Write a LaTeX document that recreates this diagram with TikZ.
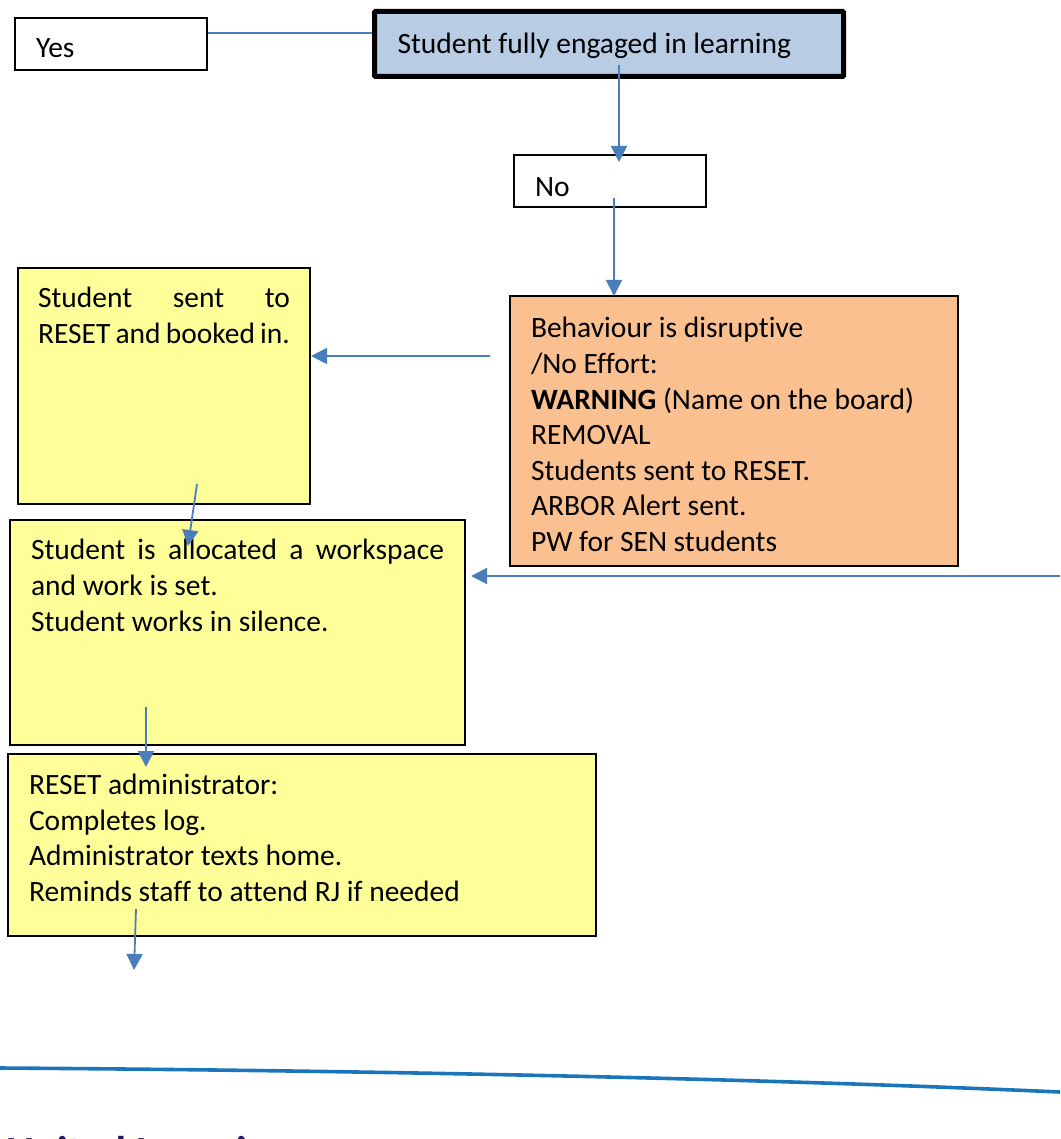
\documentclass[tikz,border=0pt]{standalone}
\usepackage{fontspec}
\setmainfont{Carlito}[Ligatures=NoCommon]
\usetikzlibrary{arrows.meta}
\definecolor{flow}{HTML}{4A7EBB}
\definecolor{paleblue}{HTML}{B8CCE4}
\definecolor{paleyellow}{HTML}{FFFF99}
\definecolor{paleorange}{HTML}{FBC08F}
\definecolor{rule}{HTML}{1B75BB}
\definecolor{navy}{HTML}{1F1A5E}
\newcommand{\boxtext}[4]{\parbox[c][#2pt][t]{#1pt}{\fontsize{29.5}{35.6}\selectfont\vspace*{#3pt}\strut #4}}
\tikzset{
  x=1pt,y=-1pt,
  flowbox/.style={draw=black,line width=2pt,inner sep=0pt,anchor=north west,align=left},
  link/.style={draw=flow,line width=1.8pt},
  arrowlink/.style={link,-{Triangle[length=16pt,width=16pt]}}
}
\begin{document}
\begin{tikzpicture}
\useasboundingbox (0,0) rectangle (1060,1139);
\begin{scope}
\clip (0,0) rectangle (1060,1139);
\node[flowbox] (yes) at (14,17) {\hspace{21pt}\boxtext{171}{52}{15}{\raggedright Yes}};
\node[flowbox,fill=paleblue,line width=5pt,rounded corners=1pt] (main) at (372,9) {\hspace{23pt}\boxtext{446}{65}{17}{\raggedright Student fully engaged in learning}};
\node[flowbox] (no) at (513,154) {\hspace{21pt}\boxtext{171}{52}{17}{\raggedright No}};
\node[flowbox,fill=paleorange] (behaviour) at (509,295) {\hspace{21pt}\boxtext{427}{270}{17}{\raggedright Behaviour is disruptive\\/No Effort:\\\textbf{WARNING} (Name on the board)\\REMOVAL\\Students sent to RESET.\\ARBOR Alert sent.\\PW for SEN students}};
\node[flowbox,fill=paleyellow] (reset) at (17,267) {\hspace{20pt}\boxtext{252}{236}{15}{\makebox[252pt][s]{Student sent to}\\\makebox[252pt][s]{RESET and booked in.}}\hspace{20pt}};
\node[flowbox,fill=paleyellow] (work) at (9,519) {\hspace{21pt}\boxtext{413}{225}{15}{Student is allocated a workspace and work is set.\\Student works in silence.}\hspace{21pt}};
\node[flowbox,fill=paleyellow] (admin) at (7,753) {\hspace{21pt}\boxtext{567}{182}{15.5}{\raggedright RESET administrator:\\Completes log.\\Administrator texts home.\\Reminds staff to attend RJ if needed}};
\coordinate (a1) at (619,65);
\coordinate (a2) at (619,162);
\coordinate (b1) at (614,198);
\coordinate (b2) at (614,296);
\coordinate (c1) at (490,356);
\coordinate (c2) at (311,356);
\coordinate (d1) at (1060,576);
\coordinate (d2) at (471,576);
\coordinate (e1) at (197,484);
\coordinate (e2) at (188,546);
\coordinate (f1) at (146,707);
\coordinate (f2) at (146,767);
\coordinate (g1) at (136,909);
\coordinate (g2) at (134,970);
\coordinate (y1) at (372,33);
\draw[link] (yes.east |- y1) -- (y1);
\draw[arrowlink] (a1) -- (a2);
\draw[arrowlink] (b1) -- (b2);
\draw[arrowlink] (c1) -- (c2);
\draw[arrowlink] (d1) -- (d2);
\draw[arrowlink] (e1) -- (e2);
\draw[arrowlink] (f1) -- (f2);
\draw[arrowlink] (g1) -- (g2);
\coordinate (r0) at (0,1068);
\coordinate (r1) at (1060,1092);
\draw[rule,line width=3.6pt] (r0) .. controls (300,1070) and (700,1076) .. (r1);
\node[anchor=base west,inner sep=0pt,text=navy,font=\fontsize{43}{46}\selectfont\bfseries] (brand) at (6,1166) {United Learning};
\end{scope}
\end{tikzpicture}
\end{document}
